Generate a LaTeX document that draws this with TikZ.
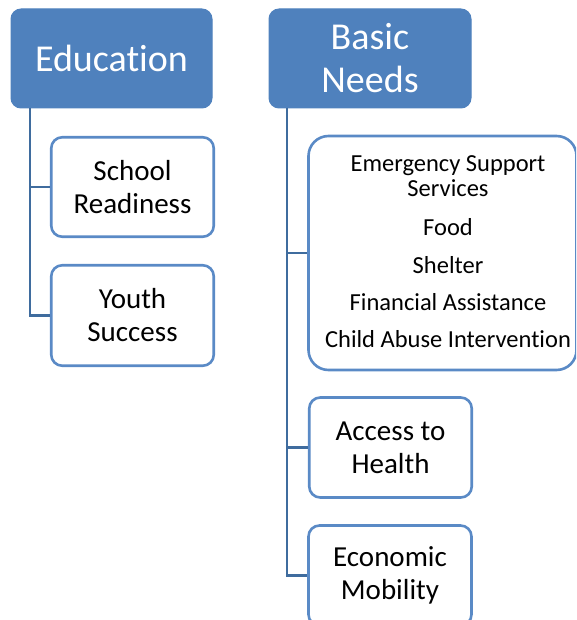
\documentclass[tikz,border=0pt]{standalone}
\usepackage{fontspec}
\setmainfont{Carlito}[Ligatures={NoCommon,NoContextual}]
\definecolor{headblue}{HTML}{4F81BD}
\definecolor{boxline}{HTML}{5A8AC6}
\definecolor{linkblue}{HTML}{3F6C9E}
\tikzset{
  headbox/.style={draw=headblue, fill=headblue, line width=1pt, rounded corners=10pt,
    text=white, align=center, inner sep=0pt, font=\fontsize{38}{43}\selectfont},
  itembox/.style={draw=boxline, fill=white, line width=2.6pt, rounded corners=11pt,
    align=center, inner sep=0pt, font=\fontsize{29}{33}\selectfont},
  link/.style={draw=linkblue, line width=2.4pt},
}
\begin{document}
\begin{tikzpicture}[x=1pt, y=-1pt]
  \useasboundingbox (0,0) rectangle (576,620);
  \clip (0,0) rectangle (576,620);

  % left column
  \node[headbox, minimum width=201pt, minimum height=99pt] (edu) at (111.5,58.5) {Education};
  \node[itembox, minimum width=162.5pt, minimum height=99.5pt] (school) at (132.5,187) {School\\Readiness};
  \node[itembox, minimum width=162.5pt, minimum height=100.5pt] (youth) at (132.5,315.5) {Youth\\Success};

  % right column
  \node[headbox, minimum width=202pt, minimum height=99pt] (basic) at (370,58.5) {Basic\\Needs};
  \node[itembox, rounded corners=20pt, minimum width=268pt, minimum height=234pt] (emerg) at (442.5,253) {};
  \node[anchor=base, inner sep=0pt, font=\fontsize{24.5}{24}\selectfont] (emergtext) at (448,172)
    {\begin{tabular}[t]{@{}c@{}}Emergency Support\\ Services\\[15pt] Food\\[14pt] Shelter\\[13pt] Financial Assistance\\[13pt] Child Abuse Intervention\end{tabular}};
  \node[itembox, minimum width=162.5pt, minimum height=100pt] (access) at (390.5,447.5) {Access to\\Health};
  \node[itembox, minimum width=163pt, minimum height=100pt] (econ) at (390,575.5) {Economic\\Mobility};

  % connectors
  \coordinate (eduspine) at (30,108);
  \coordinate (basicspine) at (287,108);
  \draw[link] (eduspine) |- (school.west);
  \draw[link] (eduspine) |- (youth.west);
  \draw[link] (basicspine) |- (emerg.west);
  \draw[link] (basicspine) |- (access.west);
  \draw[link] (basicspine) |- (econ.west);
\end{tikzpicture}
\end{document}
